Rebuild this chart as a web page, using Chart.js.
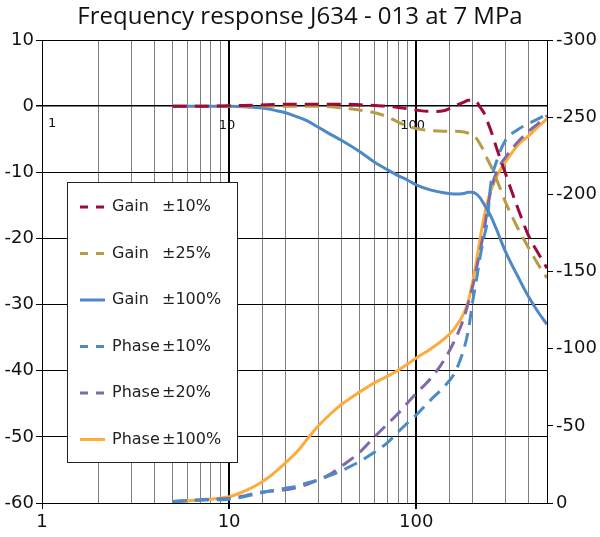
<!DOCTYPE html>
<html>
<head>
<meta charset="utf-8">
<script src="https://cdn.jsdelivr.net/npm/chart.js@4.4.1/dist/chart.umd.min.js"></script>
<style>
  html, body { margin: 0; padding: 0; background: #fff; }
  #wrap { width: 600px; height: 537px; position: relative; }
</style>
</head>
<body>
<div id="wrap"><canvas id="c" width="600" height="537"></canvas></div>
<script>
// ---- Data ----
const titleText = 'Frequency response J634 - 013 at 7 MPa';
const freq = [5, 6, 7, 8, 10, 12, 14, 16, 18, 20, 23, 26, 30, 35, 40, 50, 60, 70, 80, 90, 100,
              120, 140, 160, 180, 190, 200, 210, 220, 230, 240, 250, 270, 300, 350, 400, 450, 500];

const gain10  = [0, 0, 0, 0, 0.05, 0.1, 0.15, 0.2, 0.25, 0.3, 0.3, 0.3, 0.3, 0.3, 0.3, 0.2, 0.1, 0, -0.2, -0.4, -0.6,
                 -0.8, -0.7, 0, 0.6, 0.9, 0.9, 0.7, -0.2, -1.0, -2.3, -3.6, -6.5, -10.2, -15.5, -19.7, -22.3, -24.5];
const gain25  = [0, 0, 0, 0, 0, 0, 0, 0, 0, 0, 0, 0, 0, -0.1, -0.3, -0.6, -1.0, -1.6, -2.4, -3.0, -3.4,
                 -3.7, -3.8, -3.8, -3.9, -4.1, -4.4, -4.9, -5.8, -6.8, -8.0, -9.0, -11.2, -14.5, -18.5, -21.5, -24, -26];
const gain100 = [0, 0, 0, 0, 0, -0.1, -0.2, -0.4, -0.7, -1.0, -1.6, -2.2, -3.2, -4.3, -5.2, -6.9, -8.5, -9.6, -10.5, -11.2, -11.9,
                 -12.7, -13.1, -13.3, -13.2, -13.0, -13.0, -13.3, -13.9, -14.8, -15.7, -16.6, -18.8, -22.0, -25.8, -28.9, -31.2, -33];
const phase10  = [-1, -1.5, -2, -2, -2.5, -4, -6, -7.5, -8.5, -9.5, -11, -13, -15, -18, -21, -27, -33, -39, -46, -52, -57,
                  -67, -75, -84, -100, -112, -130, -145, -160, -172, -183, -206, -222, -235, -242, -246, -249, -252];
const phase20  = [-1, -1.5, -2, -2.5, -3, -4.5, -6.5, -7.5, -8, -8.5, -10, -12, -15, -19, -24, -33, -43, -51, -58, -65, -71,
                  -81, -92, -105, -120, -130, -140, -152, -164, -176, -190, -202, -215, -224, -234, -241, -246, -251];
const phase100 = [-1, -1.5, -2, -2.5, -4, -7.5, -11.5, -16, -21, -26, -33, -41, -50, -58, -64, -72, -78, -82, -86, -90, -94,
                  -100, -106, -113, -123, -131, -143, -157, -172, -185, -195, -202, -212, -221, -232, -238, -244, -249];

const seriesLabels = ['Gain\t±10%', 'Gain\t±25%', 'Gain\t±100%', 'Phase\t±10%', 'Phase\t±20%', 'Phase\t±100%'];
const majorFreqTicks = [1, 10, 100];
const gainTicks = { min: -60, max: 10, step: 10 };
const phaseTicks = { min: -300, max: 0, step: 50 };

// ---- Styles ----
const TFONT = "'Open Sans', 'Noto Sans', sans-serif";
const FONT = "'DejaVu Sans', sans-serif";
const colors = ['#9e0a3c', '#b89b45', '#4f88c6', '#4a8bca', '#8069a6', '#fdab3a'];
const dashes = [[14, 8], [14, 8], [], [14, 8], [14, 8], []];

function pts(ys) { return freq.map((f, i) => ({ x: f, y: ys[i] })); }
const allSeries = [gain10, gain25, gain100, phase10, phase20, phase100];
const axesFor = ['y', 'y', 'y', 'y2', 'y2', 'y2'];

const datasets = allSeries.map((s, i) => ({
  label: seriesLabels[i],
  data: pts(s),
  yAxisID: axesFor[i],
  borderColor: colors[i],
  backgroundColor: colors[i],
  borderWidth: 3,
  borderDash: dashes[i],
  pointRadius: 0,
  fill: false,
  cubicInterpolationMode: 'monotone'
}));

// Inner axis labels on the zero line & custom legend
const innerLabels = {
  id: 'innerLabels',
  beforeDatasetsDraw(chart) {
    const { ctx, scales } = chart;
    const yz = scales.y.getPixelForValue(0);
    ctx.save();
    ctx.fillStyle = '#111';
    ctx.font = "13px " + FONT;
    ctx.textBaseline = 'middle';
    majorFreqTicks.forEach((v, i) => {
      const px = scales.x.getPixelForValue(v);
      if (i === 0) { ctx.textAlign = 'left'; ctx.fillText(String(v), px + 6, yz + 17); }
      else { ctx.textAlign = 'center'; ctx.fillText(String(v), px - 2 - (i - 1) * 1.5, yz + 19); }
    });
    ctx.restore();
  }
};

const boxLegend = {
  id: 'boxLegend',
  afterDatasetsDraw(chart) {
    const { ctx } = chart;
    const bx = 67, by = 182, bw = 170, bh = 280;
    ctx.save();
    ctx.fillStyle = '#fff';
    ctx.fillRect(bx, by, bw, bh);
    ctx.strokeStyle = '#222';
    ctx.lineWidth = 1;
    ctx.strokeRect(bx + 0.5, by + 0.5, bw, bh);
    ctx.font = "16px " + FONT;
    ctx.textBaseline = 'middle';
    ctx.textAlign = 'left';
    chart.data.datasets.forEach((ds, i) => {
      const y = by + 25 + i * 46.5;
      ctx.strokeStyle = ds.borderColor;
      ctx.lineWidth = 3;
      ctx.setLineDash(ds.borderDash.length ? [8, 8] : []);
      ctx.beginPath();
      ctx.moveTo(bx + 13, y);
      ctx.lineTo(bx + 38, y);
      ctx.stroke();
      ctx.setLineDash([]);
      const parts = ds.label.split('\t');
      ctx.fillStyle = '#222';
      ctx.fillText(parts[0], bx + 45, y);
      ctx.fillText(parts[1], bx + 95, y);
    });
    ctx.restore();
  }
};

new Chart(document.getElementById('c'), {
  type: 'line',
  data: { datasets },
  plugins: [innerLabels, boxLegend],
  options: {
    responsive: false,
    animation: false,
    devicePixelRatio: 1,
    layout: { padding: { left: 0, right: 0, top: 0, bottom: 0 } },
    plugins: {
      legend: { display: false },
      tooltip: { enabled: false },
      title: {
        display: true,
        text: titleText,
        color: '#111',
        font: { family: TFONT, size: 24, weight: 'normal', lineHeight: 1.2 },
        padding: { top: 3, bottom: 8.2 }
      }
    },
    scales: {
      x: {
        type: 'logarithmic',
        min: 1,
        max: 500,
        afterFit(scale) { scale.height = 34; },
        border: { color: '#000', width: 1 },
        grid: {
          color: (c) => (c.tick && majorFreqTicks.includes(c.tick.value)) ? '#000' : '#808080',
          lineWidth: (c) => (c.tick && (c.tick.value === 10 || c.tick.value === 100)) ? 2 : 1,
          tickColor: (c) => (c.tick && majorFreqTicks.includes(c.tick.value)) ? '#000' : 'rgba(0,0,0,0)',
          tickLength: 6
        },
        ticks: {
          autoSkip: false,
          maxRotation: 0,
          color: '#111',
          padding: 3,
          font: { family: FONT, size: 18 },
          callback: (v) => majorFreqTicks.includes(v) ? String(v) : ''
        }
      },
      y: {
        position: 'left',
        min: gainTicks.min,
        max: gainTicks.max,
        afterFit(scale) { scale.width = 42; },
        border: { color: '#000', width: 1 },
        grid: {
          color: '#000',
          lineWidth: (c) => (c.tick && c.tick.value === 0) ? 1.5 : 1,
          tickLength: 6,
          tickColor: '#000'
        },
        ticks: {
          stepSize: gainTicks.step,
          color: '#111',
          padding: 2,
          font: { family: FONT, size: 18 }
        }
      },
      y2: {
        position: 'right',
        min: phaseTicks.min,
        max: phaseTicks.max,
        reverse: true,
        afterFit(scale) { scale.width = 53; },
        border: { color: '#000', width: 1 },
        grid: { drawOnChartArea: false, tickLength: 6, color: '#000' },
        ticks: {
          stepSize: phaseTicks.step,
          color: '#111',
          padding: 3,
          font: { family: FONT, size: 18 }
        }
      }
    }
  }
});
</script>
</body>
</html>
